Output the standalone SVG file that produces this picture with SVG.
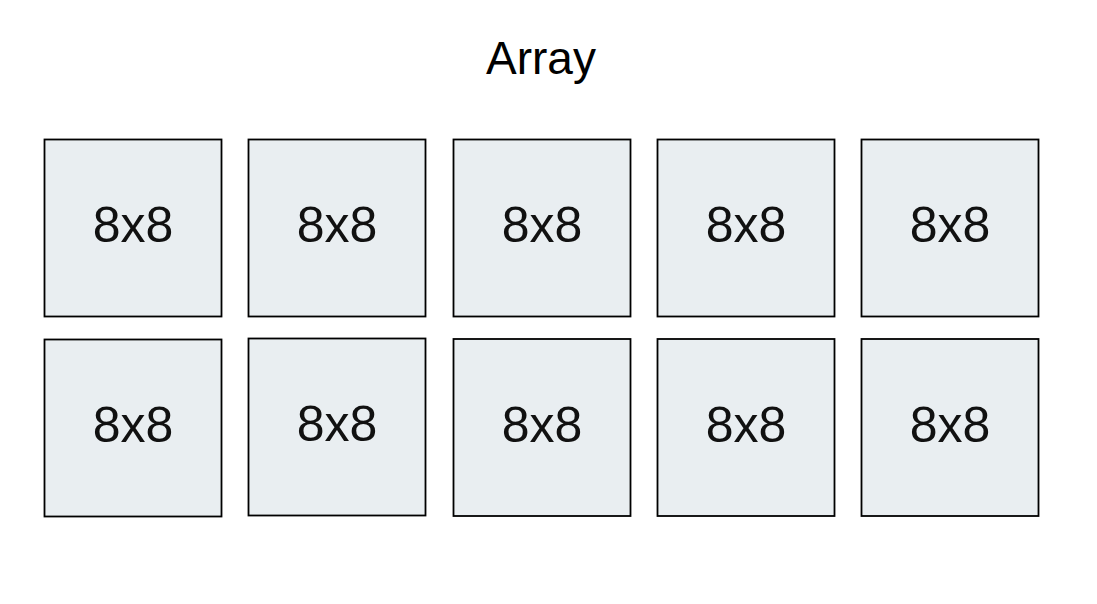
<svg xmlns="http://www.w3.org/2000/svg" width="1097" height="604" viewBox="0 0 1097 604">
<style>
.box{fill:#e9eef1;stroke:#000;stroke-width:1.8}
.lbl{font-family:"Liberation Sans",Arial,sans-serif;font-size:50px;fill:#111;text-anchor:middle}
.title{font-family:"Liberation Sans",Arial,sans-serif;font-size:46px;fill:#000;text-anchor:middle}
</style>
<rect width="1097" height="604" fill="#fff"/>
<text class="title" x="541" y="74">Array</text>
<g id="r1c1"><rect class="box" x="44.5" y="139.5" width="177" height="177"/><text class="lbl" x="133" y="242">8x8</text></g>
<g id="r1c2"><rect class="box" x="248.5" y="139.5" width="177" height="177"/><text class="lbl" x="337" y="242">8x8</text></g>
<g id="r1c3"><rect class="box" x="453.5" y="139.5" width="177" height="177"/><text class="lbl" x="542" y="242">8x8</text></g>
<g id="r1c4"><rect class="box" x="657.5" y="139.5" width="177" height="177"/><text class="lbl" x="746" y="242">8x8</text></g>
<g id="r1c5"><rect class="box" x="861.5" y="139.5" width="177" height="177"/><text class="lbl" x="950" y="242">8x8</text></g>
<g id="r2c1"><rect class="box" x="44.5" y="339.5" width="177" height="177"/><text class="lbl" x="133" y="442">8x8</text></g>
<g id="r2c2"><rect class="box" x="248.5" y="338.5" width="177" height="177"/><text class="lbl" x="337" y="441">8x8</text></g>
<g id="r2c3"><rect class="box" x="453.5" y="339" width="177" height="177"/><text class="lbl" x="542" y="442">8x8</text></g>
<g id="r2c4"><rect class="box" x="657.5" y="339" width="177" height="177"/><text class="lbl" x="746" y="442">8x8</text></g>
<g id="r2c5"><rect class="box" x="861.5" y="339" width="177" height="177"/><text class="lbl" x="950" y="442">8x8</text></g>
<g id="connectors"/>
</svg>
